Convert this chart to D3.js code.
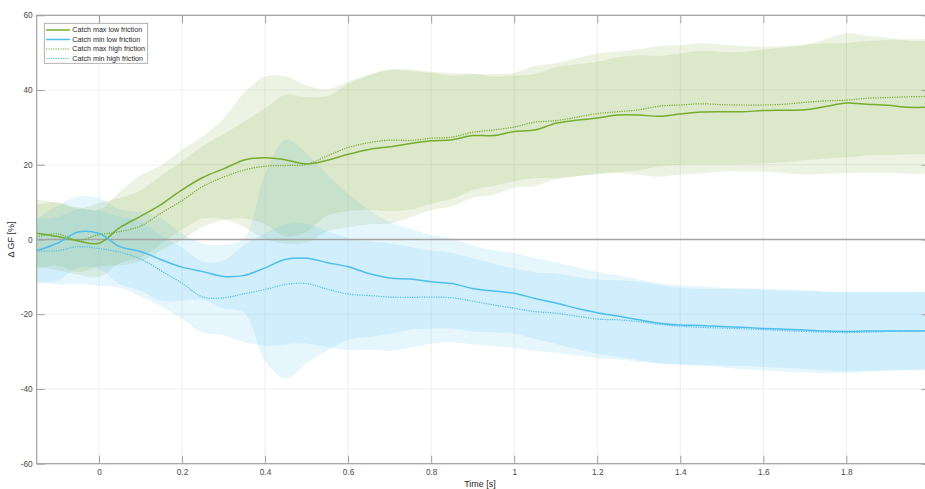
<!DOCTYPE html>
<html>
<head>
<meta charset="utf-8">
<script src="https://cdn.jsdelivr.net/npm/d3@7/dist/d3.min.js"></script>
<style>
  html, body { margin: 0; padding: 0; background: #ffffff; }
  svg { display: block; font-family: "Liberation Sans", Arial, Helvetica, sans-serif; }
</style>
</head>
<body>
<svg id="chart" width="925" height="489"></svg>
<script>
// Sample times [s]
const time = [-0.15, -0.10, -0.05, 0.00, 0.05, 0.10, 0.15, 0.20, 0.25, 0.30,
              0.35, 0.40, 0.45, 0.50, 0.55, 0.60, 0.65, 0.70, 0.75, 0.80,
              0.85, 0.90, 0.95, 1.00, 1.05, 1.10, 1.15, 1.20, 1.25, 1.30,
              1.35, 1.40, 1.45, 1.50, 1.55, 1.60, 1.65, 1.70, 1.75, 1.80,
              1.85, 1.90, 1.95, 2.00];

// Mean grip-force change [%]
const maxLowMean = [1.7, 0.8, -0.4, -1.0, 3.2, 6.2, 9.4, 13.3, 16.6, 18.9,
                    21.3, 21.9, 21.3, 20.2, 21.2, 22.8, 24.1, 24.8, 25.7, 26.4,
                    26.7, 27.8, 27.8, 28.9, 29.3, 31.1, 31.9, 32.5, 33.3, 33.3,
                    33.0, 33.6, 34.1, 34.2, 34.2, 34.5, 34.6, 34.7, 35.6, 36.5,
                    36.2, 35.9, 35.4, 35.4];
const minLowMean = [-3.0, -1.0, 2.0, 1.6, -1.9, -3.2, -5.4, -7.4, -8.6, -9.9,
                    -9.6, -7.6, -5.3, -5.0, -6.2, -7.3, -9.1, -10.3, -10.6, -11.3,
                    -11.8, -13.1, -13.8, -14.4, -15.8, -17.0, -18.4, -19.6, -20.5, -21.5,
                    -22.4, -22.9, -23.0, -23.3, -23.5, -23.8, -24.0, -24.2, -24.5, -24.6,
                    -24.5, -24.5, -24.5, -24.5];
const maxHighMean = [0.7, 1.5, -0.2, 1.3, 2.1, 3.6, 7.1, 10.4, 14.2, 16.7,
                     18.6, 19.6, 19.8, 20.1, 22.4, 24.6, 25.9, 26.6, 26.5, 27.1,
                     27.4, 28.7, 29.3, 30.1, 31.4, 31.8, 32.7, 33.7, 34.2, 34.7,
                     35.7, 36.0, 36.3, 36.1, 36.0, 36.0, 36.2, 36.7, 37.1, 37.3,
                     37.8, 38.0, 38.2, 38.3];
const minHighMean = [-3.0, -3.0, -1.9, -2.4, -3.4, -5.2, -8.4, -11.7, -15.4, -15.6,
                     -14.5, -13.4, -12.0, -11.8, -13.3, -14.6, -15.0, -15.4, -15.5, -15.4,
                     -15.6, -16.5, -17.5, -18.4, -19.3, -19.7, -20.5, -21.3, -21.5, -22.0,
                     -22.7, -23.2, -23.5, -23.7, -23.9, -24.1, -24.4, -24.6, -24.8, -24.9,
                     -24.8, -24.6, -24.5, -24.3];

// Standard deviation around each mean [%]
const maxLowSd = [9.0, 9.0, 9.0, 9.0, 9.5, 11.0, 10.5, 10.7, 11.0, 13.5,
                  18.0, 21.7, 22.3, 21.0, 19.0, 19.5, 20.0, 20.5, 19.8, 18.5,
                  17.8, 16.6, 15.8, 15.0, 15.0, 15.0, 15.0, 15.1, 15.5, 16.0,
                  16.2, 16.2, 16.4, 16.0, 16.0, 16.3, 16.8, 17.3, 18.0, 18.7,
                  18.3, 18.0, 17.8, 17.7];
const minLowSd = [8.5, 10.0, 9.5, 9.5, 10.0, 10.5, 11.0, 9.0, 7.5, 8.5,
                  10.0, 25.0, 32.0, 28.0, 23.5, 19.5, 17.0, 15.0, 13.5, 12.5,
                  12.0, 11.5, 11.0, 10.8, 10.8, 10.9, 11.0, 11.0, 10.9, 10.8,
                  10.7, 10.6, 10.5, 10.4, 10.3, 10.3, 10.3, 10.4, 10.5, 10.6,
                  10.6, 10.5, 10.5, 10.5];
const maxHighSd = [8.5, 8.5, 8.5, 8.5, 9.0, 9.5, 10.0, 10.5, 10.8, 11.5,
                   13.0, 15.5, 19.0, 18.0, 16.0, 17.0, 18.0, 19.0, 18.5, 17.5,
                   16.5, 15.5, 15.0, 14.5, 15.0, 15.4, 15.8, 16.0, 16.1, 16.2,
                   16.1, 16.0, 16.2, 16.0, 15.8, 15.6, 15.5, 15.5, 15.4, 15.3,
                   15.3, 15.4, 15.4, 15.4];
const minHighSd = [8.5, 9.0, 10.0, 10.0, 9.5, 10.0, 9.5, 9.5, 9.5, 10.0,
                   13.0, 15.0, 16.0, 16.0, 15.5, 15.0, 14.5, 14.4, 13.5, 12.5,
                   12.0, 11.5, 11.0, 10.7, 10.5, 10.6, 10.5, 10.5, 10.6, 10.7,
                   10.5, 10.2, 10.3, 10.5, 10.8, 10.9, 11.0, 11.0, 10.9, 10.8,
                   10.6, 10.5, 10.4, 10.4];

// Axis ticks (labelled ones; the 2 s tick falls beyond the visible frame)
const xTicks = [0, 0.2, 0.4, 0.6, 0.8, 1, 1.2, 1.4, 1.6, 1.8];
const xTickLabels = ["0", "0.2", "0.4", "0.6", "0.8", "1", "1.2", "1.4", "1.6", "1.8"];
const yTicks = [-60, -40, -20, 0, 20, 40, 60];
const yTickLabels = ["-60", "-40", "-20", "0", "20", "40", "60"];

const seriesNames = ["Catch max low friction", "Catch min low friction",
                     "Catch max high friction", "Catch min high friction"];

const GREEN = "#77ac30";
const BLUE = "#4dbeee";

const series = [
  { name: seriesNames[0], mean: maxLowMean,  sd: maxLowSd,  color: GREEN, dotted: false },
  { name: seriesNames[1], mean: minLowMean,  sd: minLowSd,  color: BLUE,  dotted: false },
  { name: seriesNames[2], mean: maxHighMean, sd: maxHighSd, color: GREEN, dotted: true },
  { name: seriesNames[3], mean: minHighMean, sd: minHighSd, color: BLUE,  dotted: true }
];

const svg = d3.select("#chart");
const W = 925, H = 489;
const plot = { left: 36.7, right: 929.4, top: 15.3, bottom: 463.7 };

const x = d3.scaleLinear().domain([-0.15, 2.0]).range([plot.left, plot.right]);
const y = d3.scaleLinear().domain([-60, 60]).range([plot.bottom, plot.top]);

svg.append("rect").attr("width", W).attr("height", H).attr("fill", "#ffffff");

svg.append("defs").append("clipPath").attr("id", "plotClip")
  .append("rect")
  .attr("x", plot.left).attr("y", plot.top)
  .attr("width", plot.right - plot.left).attr("height", plot.bottom - plot.top);

// Grid
const grid = svg.append("g").attr("stroke", "#ebebeb").attr("stroke-width", 0.8);
grid.selectAll("line.gx").data(xTicks).join("line")
  .attr("x1", d => x(d)).attr("x2", d => x(d))
  .attr("y1", plot.top).attr("y2", plot.bottom);
grid.selectAll("line.gy").data(yTicks).join("line")
  .attr("x1", plot.left).attr("x2", plot.right)
  .attr("y1", d => y(d)).attr("y2", d => y(d));

const body = svg.append("g").attr("clip-path", "url(#plotClip)");
const curve = d3.curveCatmullRom.alpha(0.5);

// Shaded mean ± SD bands
const band = s => d3.area()
  .curve(curve)
  .x((d, i) => x(time[i]))
  .y0((d, i) => y(s.mean[i] - s.sd[i]))
  .y1((d, i) => y(s.mean[i] + s.sd[i]));

series.forEach(s => {
  body.append("path")
    .datum(s.mean)
    .attr("d", band(s))
    .attr("fill", s.color)
    .attr("fill-opacity", 0.14)
    .attr("stroke", "none");
});

// Zero reference line
body.append("line")
  .attr("x1", plot.left).attr("x2", plot.right)
  .attr("y1", y(0)).attr("y2", y(0))
  .attr("stroke", "#a3a3a3").attr("stroke-width", 1.3);

// Mean lines
const meanLine = d3.line()
  .curve(curve)
  .x((d, i) => x(time[i]))
  .y(d => y(d));

series.forEach(s => {
  body.append("path")
    .datum(s.mean)
    .attr("d", meanLine)
    .attr("fill", "none")
    .attr("stroke", s.color)
    .attr("stroke-width", s.dotted ? 1.2 : 1.5)
    .attr("stroke-dasharray", s.dotted ? "1.2,1.2" : null);
});

// Axes box and ticks
const axisColor = "#a0a0a0";
const labelColor = "#4a4a4a";

function styleAxis(g) {
  g.selectAll(".domain").remove();
  g.selectAll(".tick line").attr("stroke", axisColor).attr("stroke-width", 1);
  g.selectAll(".tick text").attr("fill", labelColor).attr("font-size", "8.3px")
    .attr("font-family", "Liberation Sans, Arial, sans-serif");
}

const xBottom = svg.append("g")
  .attr("transform", `translate(0,${plot.bottom})`)
  .call(d3.axisBottom(x).tickValues(xTicks)
    .tickFormat((d, i) => xTickLabels[i])
    .tickSizeInner(-8).tickSizeOuter(0).tickPadding(5));
styleAxis(xBottom);

const xTop = svg.append("g")
  .attr("transform", `translate(0,${plot.top})`)
  .call(d3.axisTop(x).tickValues(xTicks).tickFormat("")
    .tickSizeInner(-8).tickSizeOuter(0));
styleAxis(xTop);

const yLeft = svg.append("g")
  .attr("transform", `translate(${plot.left},0)`)
  .call(d3.axisLeft(y).tickValues(yTicks)
    .tickFormat((d, i) => yTickLabels[i])
    .tickSizeInner(-8).tickSizeOuter(0).tickPadding(4));
styleAxis(yLeft);

const yRight = svg.append("g")
  .attr("transform", `translate(${plot.right},0)`)
  .call(d3.axisRight(y).tickValues(yTicks).tickFormat("")
    .tickSizeInner(-8).tickSizeOuter(0));
styleAxis(yRight);

svg.append("rect")
  .attr("x", plot.left).attr("y", plot.top)
  .attr("width", plot.right - plot.left).attr("height", plot.bottom - plot.top)
  .attr("fill", "none").attr("stroke", axisColor).attr("stroke-width", 1.2);

// Axis titles
svg.append("text")
  .attr("x", (plot.left + plot.right) / 2 - 3).attr("y", 487)
  .attr("text-anchor", "middle")
  .attr("font-size", "9px").attr("fill", "#262626")
  .text("Time [s]");

svg.append("text")
  .attr("transform", `translate(14,${y(0)}) rotate(-90)`)
  .attr("text-anchor", "middle")
  .attr("font-size", "9px").attr("fill", "#262626")
  .text("\u0394 GF [%]");

// Legend
const legend = svg.append("g");
legend.append("rect")
  .attr("x", 44.3).attr("y", 23.3).attr("width", 103.4).attr("height", 40)
  .attr("fill", "#ffffff").attr("stroke", "#a0a0a0").attr("stroke-width", 0.8);

const rowY = [30, 39.5, 49, 58.5];
series.forEach((s, i) => {
  legend.append("line")
    .attr("x1", 46).attr("x2", 70)
    .attr("y1", rowY[i]).attr("y2", rowY[i])
    .attr("stroke", s.color)
    .attr("stroke-width", s.dotted ? 1.2 : 1.5)
    .attr("stroke-dasharray", s.dotted ? "1.2,1.2" : null);
  legend.append("text")
    .attr("x", 72.3).attr("y", rowY[i])
    .attr("dominant-baseline", "central")
    .attr("font-size", "7.15px").attr("fill", "#262626")
    .text(s.name);
});
</script>
</body>
</html>
